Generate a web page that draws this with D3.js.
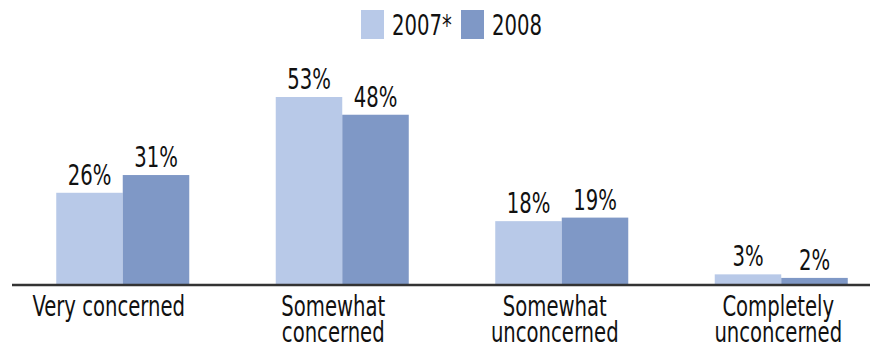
<!DOCTYPE html>
<html>
<head>
<meta charset="utf-8"/>
<script src="https://cdn.jsdelivr.net/npm/d3@7"></script>
<style>
body { margin: 0; background: #fff; }
text { font-family: "DejaVu Sans Condensed", "DejaVu Sans", sans-serif; fill: #111; }
.axis-line { stroke: #333; stroke-width: 2.5; }
</style>
</head>
<body>
<svg id="chart" width="878" height="350"></svg>
<script>
var categories = [["Very concerned"], ["Somewhat", "concerned"], ["Somewhat", "unconcerned"], ["Completely", "unconcerned"]];
var seriesNames = ["2007*", "2008"];
var values2007 = [26, 53, 18, 3];
var values2008 = [31, 48, 19, 2];
var colors = ["#b8c9e8", "#7f98c6"];

var svg = d3.select("#chart");
var baseY = 285;
var squeeze = 0.78; // narrow the glyphs, the original uses a condensed face
var labelNudge = [-14, -9, -7, -3]; // category labels sit a bit left of the bar pairs

function place(x, yy) { return "translate(" + x + "," + yy + ") scale(" + squeeze + ",1)"; }

var x0 = d3.scaleBand()
    .domain(d3.range(categories.length))
    .range([13, 891])
    .paddingInner(0.394)
    .paddingOuter(0.197);

var x1 = d3.scaleBand()
    .domain(seriesNames)
    .range([0, x0.bandwidth()]);

var y = d3.scaleLinear()
    .domain([0, 53])
    .range([baseY, 97]);

var series = [values2007, values2008];

var groups = svg.append("g").selectAll("g")
  .data(categories)
  .enter().append("g")
    .attr("transform", function(d, i) { return "translate(" + x0(i) + ",0)"; });

groups.selectAll("rect")
  .data(function(d, i) { return series.map(function(s, k) { return {name: seriesNames[k], value: s[i], k: k}; }); })
  .enter().append("rect")
    .attr("x", function(d) { return x1(d.name); })
    .attr("y", function(d) { return y(d.value); })
    .attr("width", x1.bandwidth())
    .attr("height", function(d) { return baseY - y(d.value); })
    .attr("fill", function(d) { return colors[d.k]; });

groups.selectAll("text.val")
  .data(function(d, i) { return series.map(function(s, k) { return {name: seriesNames[k], value: s[i]}; }); })
  .enter().append("text")
    .attr("class", "val")
    .attr("transform", function(d) { return place(x1(d.name) + x1.bandwidth() / 2, y(d.value) - 8); })
    .attr("text-anchor", "middle")
    .attr("font-size", 28)
    .text(function(d) { return d.value + "%"; });

groups.each(function(lines, i) {
  d3.select(this).selectAll("text.cat")
    .data(lines)
    .enter().append("text")
      .attr("class", "cat")
      .attr("transform", function(d, j) { return place(x0.bandwidth() / 2 + labelNudge[i], 316 + j * 26); })
      .attr("text-anchor", "middle")
      .attr("font-size", 28)
      .text(function(d) { return d; });
});

svg.append("line")
    .attr("class", "axis-line")
    .attr("x1", 12).attr("x2", 870)
    .attr("y1", baseY).attr("y2", baseY);

// legend
var legendX = [361, 461];
var legend = svg.append("g").selectAll("g")
  .data(seriesNames)
  .enter().append("g")
    .attr("transform", function(d, i) { return "translate(" + legendX[i] + ",10)"; });

legend.append("rect")
    .attr("width", 23).attr("height", 29)
    .attr("fill", function(d, i) { return colors[i]; });

legend.append("text")
    .attr("transform", place(31, 25))
    .attr("font-size", 28)
    .text(function(d) { return d; });
</script>
</body>
</html>
